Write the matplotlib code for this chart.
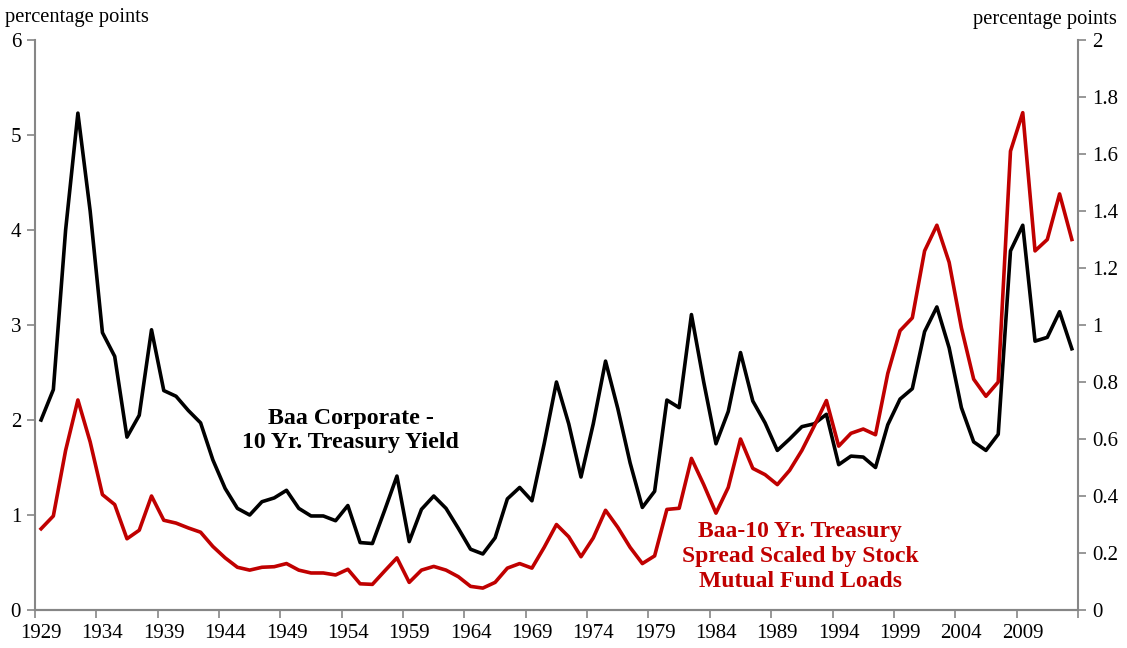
import matplotlib.pyplot as plt
import matplotlib.ticker as mticker

plt.rcParams['font.family'] = ['Liberation Serif', 'DejaVu Serif']

years = list(range(1929, 2014))

# Baa corporate minus 10 yr treasury yield (left axis)
baa_spread = [2.00, 2.32, 4.00, 5.23, 4.20, 2.92, 2.67, 1.82, 2.05, 2.95,
              2.31, 2.25, 2.10, 1.97, 1.58, 1.28, 1.07, 1.00, 1.14, 1.18,
              1.26, 1.07, 0.99, 0.99, 0.94, 1.10, 0.71, 0.70, 1.05, 1.41,
              0.72, 1.06, 1.20, 1.07, 0.86, 0.64, 0.59, 0.76, 1.17, 1.29,
              1.15, 1.75, 2.40, 1.96, 1.40, 1.96, 2.62, 2.12, 1.55, 1.08,
              1.25, 2.21, 2.13, 3.11, 2.40, 1.75, 2.09, 2.71, 2.20, 1.97,
              1.68, 1.80, 1.93, 1.96, 2.06, 1.53, 1.62, 1.61, 1.50, 1.95,
              2.22, 2.33, 2.93, 3.19, 2.76, 2.13, 1.77, 1.68, 1.85, 3.78,
              4.05, 2.83, 2.87, 3.14, 2.75]

# spread scaled by stock mutual fund loads (right axis)
scaled_spread = [0.285, 0.330, 0.560, 0.737, 0.590, 0.405, 0.370, 0.250, 0.280, 0.400,
                 0.315, 0.305, 0.288, 0.273, 0.223, 0.183, 0.150, 0.140, 0.150, 0.152,
                 0.163, 0.140, 0.130, 0.130, 0.123, 0.143, 0.092, 0.090, 0.137, 0.183,
                 0.097, 0.140, 0.153, 0.140, 0.117, 0.083, 0.077, 0.097, 0.147, 0.163,
                 0.147, 0.220, 0.300, 0.257, 0.187, 0.253, 0.350, 0.290, 0.220, 0.163,
                 0.190, 0.353, 0.357, 0.532, 0.440, 0.340, 0.430, 0.600, 0.497, 0.475,
                 0.440, 0.490, 0.560, 0.645, 0.735, 0.575, 0.620, 0.635, 0.615, 0.830,
                 0.980, 1.025, 1.260, 1.350, 1.220, 0.990, 0.810, 0.750, 0.800, 1.610,
                 1.745, 1.260, 1.300, 1.460, 1.300]

label_years = list(range(1929, 2010, 5))

axis_grey = '#868686'
red = '#C00000'

fig = plt.figure(figsize=(11.27, 6.48), dpi=100)
ax = fig.add_axes([0.031, 0.0586, 0.9255, 0.8797])
ax2 = ax.twinx()

ax.plot(years, baa_spread, color='black', lw=2.6, zorder=3)
ax2.plot(years, scaled_spread, color=red, lw=2.6, zorder=2)

ax.set_xlim(1928.5, 2013.5)
ax.set_ylim(0, 6)
ax2.set_ylim(0, 2)

ax.set_yticks(range(0, 7))
ax2.set_yticks([i * 0.2 for i in range(11)])
ax2.yaxis.set_major_formatter(mticker.FuncFormatter(lambda v, p: '%g' % round(v, 1)))

ax.set_xticks(label_years)
ax.set_xticks([1928.5 + 5 * k for k in range(18)], minor=True)
ax.tick_params(axis='x', which='major', length=0, labelsize=15, pad=10)
ax.tick_params(axis='x', which='minor', length=6, width=1.2, color=axis_grey, direction='out')
ax.tick_params(axis='y', length=6, width=1.2, color=axis_grey, labelsize=15, pad=4)
ax2.tick_params(axis='y', length=6, width=1.2, color=axis_grey, labelsize=15, pad=4)

for a in (ax, ax2):
    a.spines['top'].set_visible(False)
    for s in ('left', 'right', 'bottom'):
        a.spines[s].set_color(axis_grey)
        a.spines[s].set_linewidth(1.5)
ax.spines['right'].set_visible(False)
ax2.spines['left'].set_visible(False)

fig.text(0.004, 0.973, 'percentage points', fontsize=14.8, ha='left', va='center')
fig.text(0.991, 0.970, 'percentage points', fontsize=14.8, ha='right', va='center')

ax.text(1954.25, 1.89, 'Baa Corporate -\n10 Yr. Treasury Yield', fontsize=17.2,
        fontweight='bold', ha='center', va='center', linespacing=1.24)
ax.text(1990.85, 0.56, 'Baa-10 Yr. Treasury\nSpread Scaled by Stock\nMutual Fund Loads',
        fontsize=17, fontweight='bold', color=red, ha='center', va='center',
        linespacing=1.24)

fig.savefig('out.png', dpi=100)
